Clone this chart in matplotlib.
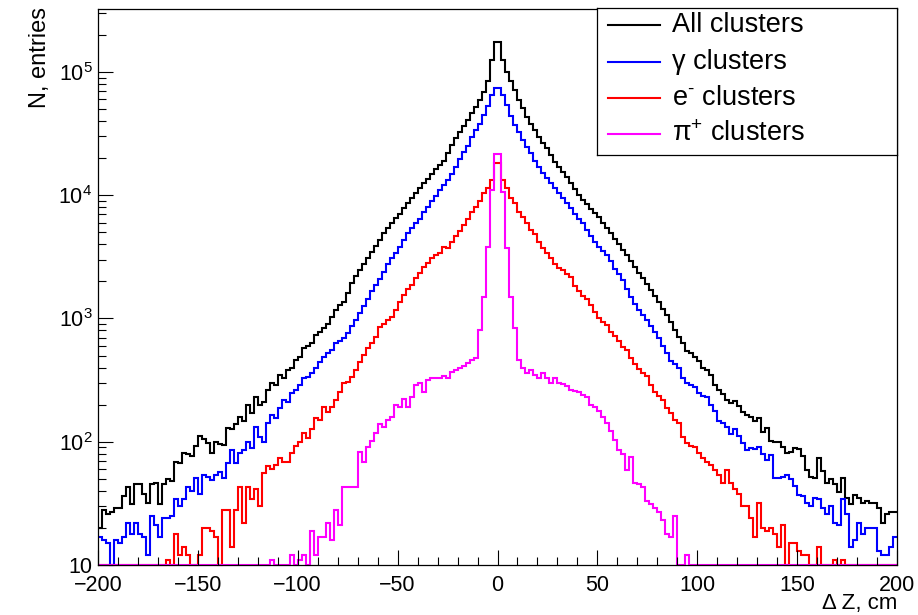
import numpy as np
import matplotlib.pyplot as plt
from matplotlib.ticker import MultipleLocator, LogLocator, FuncFormatter, NullFormatter

plt.rcParams['font.family'] = ['Liberation Sans', 'DejaVu Sans']
plt.rcParams['mathtext.fontset'] = 'custom'
plt.rcParams['mathtext.rm'] = 'Liberation Sans'
plt.rcParams['mathtext.it'] = 'Liberation Sans:italic'

# 200 bins of 2 cm between -200 and 200 cm
edges = np.arange(-200, 201, 2)

all_clusters = [
    20, 28, 26, 27, 29, 29, 36, 43, 31, 45,
    45, 38, 32, 45, 46, 31, 45, 50, 48, 69,
    67, 81, 79, 77, 93, 112, 105, 98, 81, 100,
    96, 94, 130, 128, 140, 158, 148, 200, 170, 230,
    200, 210, 263, 300, 288, 347, 330, 380, 400, 457,
    490, 575, 600, 630, 740, 775, 830, 910, 1020, 1170,
    1290, 1350, 1610, 1940, 2200, 2460, 2760, 3090, 3460, 3880,
    4350, 4920, 5390, 5910, 6480, 7100, 7940, 8700, 9500, 10400,
    11400, 12500, 13500, 14800, 16200, 17500, 19000, 21800, 25500, 29000,
    32500, 36300, 40600, 46500, 51600, 59000, 69000, 85000, 125000, 175000,
    175000, 125000, 100000, 85000, 71000, 59000, 51000, 43000, 38000, 34000,
    29500, 26500, 24000, 21300, 18700, 17000, 15500, 14100, 12600, 11200,
    10000, 9100, 8500, 7800, 7200, 6600, 6000, 5400, 4900, 4450,
    4000, 3600, 3250, 2950, 2630, 2350, 2140, 1900, 1700, 1510,
    1350, 1200, 1070, 930, 800, 710, 630, 540, 525, 490,
    455, 400, 380, 345, 290, 265, 245, 220, 205, 215,
    195, 175, 165, 160, 148, 155, 120, 130, 102, 100,
    100, 91, 81, 83, 89, 87, 76, 59, 52, 51,
    74, 58, 46, 50, 45, 39, 51, 35, 31, 37,
    35, 32, 33, 32, 32, 29, 22, 26, 27, 27,
]

gamma_clusters = [
    17, 16, 15, 8, 16, 15, 17, 22, 18, 22,
    18, 17, 12, 25, 21, 17, 24, 24, 25, 34,
    30, 34, 43, 40, 51, 38, 54, 52, 49, 54,
    57, 51, 67, 85, 67, 81, 86, 100, 89, 132,
    109, 100, 142, 165, 155, 187, 217, 210, 247, 262,
    288, 330, 335, 360, 397, 445, 490, 520, 560, 630,
    660, 690, 760, 870, 980, 1100, 1260, 1450, 1660, 1860,
    2090, 2400, 2750, 3100, 3400, 3800, 4350, 4900, 5400, 5900,
    6450, 7250, 7950, 8900, 9800, 11000, 12000, 13200, 14800, 17000,
    19500, 22400, 25100, 29500, 33900, 38000, 44700, 52500, 64500, 74000,
    74000, 64500, 53700, 43600, 37000, 32400, 28200, 24500, 21900, 19000,
    17000, 15100, 13800, 12600, 11500, 10500, 9500, 8700, 7900, 7100,
    6450, 5900, 5250, 4700, 4150, 3800, 3550, 3250, 2900, 2500,
    2300, 2050, 1750, 1500, 1320, 1170, 1070, 980, 870, 780,
    690, 600, 525, 455, 430, 400, 330, 300, 290, 280,
    250, 235, 230, 200, 178, 148, 141, 132, 115, 126,
    112, 98, 85, 89, 87, 91, 79, 71, 78, 51,
    51, 52, 54, 50, 44, 37, 36, 32, 30, 35,
    34, 29, 26, 30, 22, 21, 34, 26, 14, 16,
    22, 18, 20, 20, 20, 13, 12, 12, 14, 17,
]

electron_clusters = [
    0, 0, 0, 0, 0, 0, 0, 0, 0, 0,
    0, 0, 0, 0, 0, 0, 0, 11, 4, 18,
    12, 14, 12, 5, 5, 12, 20, 20, 19, 17,
    5, 28, 28, 14, 28, 43, 22, 43, 34, 41,
    30, 56, 63, 60, 65, 74, 69, 69, 81, 93,
    100, 117, 107, 126, 155, 151, 190, 175, 190, 218,
    252, 300, 305, 333, 380, 445, 505, 575, 630, 710,
    850, 910, 970, 1030, 1170, 1350, 1550, 1740, 1870, 2130,
    2350, 2630, 2820, 3100, 3250, 3400, 3800, 3700, 4200, 4700,
    5100, 5750, 6450, 7250, 7950, 8900, 10500, 11500, 13200, 18200,
    18200, 13200, 11500, 9500, 8700, 7250, 6600, 5900, 5250, 4800,
    4200, 3700, 3400, 3100, 2750, 2550, 2450, 2290, 2190, 1820,
    1660, 1510, 1440, 1290, 1120, 1000, 930, 890, 775, 725,
    660, 590, 550, 480, 425, 390, 360, 340, 288, 253,
    234, 218, 187, 170, 150, 141, 110, 98, 93, 91,
    81, 74, 69, 65, 59, 54, 46, 59, 46, 41,
    38, 30, 30, 24, 17, 32, 20, 19, 20, 18,
    14, 21, 5, 15, 15, 13, 12, 12, 3, 2,
    14, 0, 0, 0, 11, 0, 11, 0, 0, 0,
    0, 0, 0, 0, 0, 0, 0, 0, 0, 0,
]

pion_clusters = [
    0, 0, 0, 0, 0, 0, 0, 0, 0, 0,
    0, 0, 0, 0, 0, 0, 0, 0, 0, 0,
    0, 0, 0, 0, 0, 0, 0, 0, 0, 0,
    0, 0, 0, 0, 0, 0, 0, 0, 0, 0,
    0, 0, 0, 11, 0, 0, 0, 0, 12, 0,
    11, 12, 0, 19, 12, 17, 17, 22, 16, 28,
    21, 43, 43, 43, 43, 83, 69, 91, 102, 117,
    138, 132, 151, 158, 200, 190, 224, 190, 229, 288,
    302, 251, 316, 331, 331, 331, 339, 330, 370, 380,
    398, 415, 435, 460, 480, 810, 1480, 3800, 11000, 21500,
    21500, 10700, 3700, 1480, 830, 460, 400, 363, 380, 350,
    330, 360, 330, 300, 330, 300, 295, 282, 263, 257,
    251, 240, 229, 200, 190, 178, 158, 141, 123, 103,
    85, 80, 59, 75, 46, 45, 43, 33, 31, 29,
    27, 23, 18, 17, 25, 0, 0, 12, 0, 0,
    0, 0, 0, 0, 0, 0, 0, 0, 0, 0,
    0, 0, 0, 0, 0, 0, 0, 0, 0, 0,
    0, 0, 0, 0, 0, 0, 0, 0, 0, 0,
    0, 0, 0, 0, 0, 0, 0, 0, 0, 0,
    0, 0, 0, 0, 0, 0, 0, 0, 0, 0,
]

labels = ['All clusters', 'γ clusters', '$\\mathregular{e^{\u2010}}$ clusters',
          r'$\mathregular{\pi^{+}}$ clusters']
colors = ['#000000', '#0000ff', '#ff0000', '#ff00ff']
series = [all_clusters, gamma_clusters, electron_clusters, pion_clusters]

W, H = 918, 615
fig = plt.figure(figsize=(W / 100, H / 100), dpi=100)
ax = fig.add_axes([98 / W, 1 - 565 / H, 799 / W, 556 / H])

ymin = 10
for vals, col in zip(series, colors):
    # empty bins sit on the lower edge, as in a ROOT log plot
    ax.stairs(np.clip(vals, ymin, None), edges, baseline=None,
              color=col, lw=1.5, clip_on=False)

ax.set_yscale('log')
ax.set_xlim(-200, 200)
ax.set_ylim(ymin, 3.24e5)

ax.xaxis.set_major_locator(MultipleLocator(50))
ax.xaxis.set_minor_locator(MultipleLocator(10))
ax.yaxis.set_major_locator(LogLocator(base=10, numticks=10))
ax.yaxis.set_minor_locator(LogLocator(base=10, subs=np.arange(2, 10), numticks=20))
ax.yaxis.set_minor_formatter(NullFormatter())


def log_label(v, pos):
    n = int(round(np.log10(v)))
    return '10' if n == 1 else r'$\mathregular{10^{%d}}$' % n


ax.yaxis.set_major_formatter(FuncFormatter(log_label))
ax.tick_params(which='both', direction='in', top=False, right=False, labelsize=15.5)
ax.tick_params(axis='x', pad=7.5)
ax.tick_params(axis='y', pad=4)
ax.tick_params(which='major', length=11, width=0.8)
ax.tick_params(which='minor', length=6, width=0.8)
for sp in ax.spines.values():
    sp.set_linewidth(0.9)

# lift the lowest y label a touch so it clears the first x label
ax.figure.canvas.draw()
ax.get_yticklabels()[1].set_y(11)

fig.text(897 / W, 1 - 603 / H, 'Δ Z, cm', ha='right', va='center', fontsize=16)
fig.text(40 / W, 1 - 7 / H, 'N, entries', ha='center', va='top', rotation=90, fontsize=17)

# legend box in the top right corner
leg = fig.add_axes([597 / W, 1 - 155 / H, 300 / W, 147 / H])
leg.set_xlim(0, 300)
leg.set_ylim(147, 0)
leg.set_xticks([])
leg.set_yticks([])
for sp in leg.spines.values():
    sp.set_linewidth(0.9)
row_y = [17, 54, 90, 126]
for y, col, lab in zip(row_y, colors, labels):
    leg.plot([11, 63], [y, y], color=col, lw=1.5)
    leg.text(75, y, lab, ha='left', va='center', fontsize=19.5)

fig.savefig('out.png', dpi=100)
